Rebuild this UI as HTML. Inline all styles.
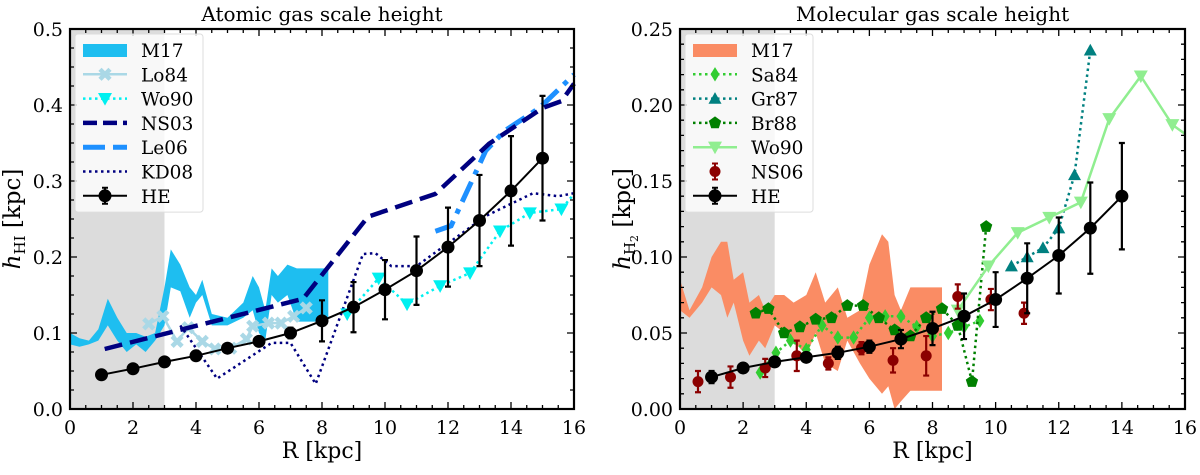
<!DOCTYPE html>
<html><head><meta charset="utf-8"><style>
body{margin:0;background:#fff;}
svg text{font-family:"DejaVu Serif","Liberation Serif",serif;}
</style></head><body>
<svg id="fig" xmlns="http://www.w3.org/2000/svg" width="1200" height="470" viewBox="0 0 1200 470"></svg>
<script>
// ---------- Left panel data (atomic) ----------
const heR = [1,2,3,4,5,6,7,8,9,10,11,12,13,14,15];
const heHI = [0.045,0.053,0.062,0.070,0.080,0.089,0.100,0.116,0.134,0.157,0.182,0.213,0.248,0.287,0.330];
const heHIerr = [0.005,0.005,0.003,0.003,0.004,0.005,0.007,0.027,0.033,0.039,0.045,0.052,0.060,0.072,0.082];
const m17R = [0,0.3,0.6,0.9,1.2,1.5,1.8,2.1,2.4,2.7,3.0,3.2,3.5,3.8,4.0,4.2,4.5,5.0,5.5,5.8,6.0,6.2,6.4,6.6,6.9,7.2,8.2];
const m17Lo = [0.085,0.082,0.085,0.09,0.11,0.09,0.075,0.085,0.075,0.09,0.11,0.16,0.155,0.12,0.14,0.15,0.11,0.11,0.12,0.13,0.10,0.09,0.15,0.14,0.15,0.115,0.115];
const m17Hi = [0.10,0.093,0.09,0.105,0.145,0.12,0.10,0.10,0.095,0.10,0.16,0.21,0.19,0.16,0.15,0.17,0.125,0.12,0.14,0.175,0.16,0.13,0.185,0.175,0.19,0.185,0.185];
const lo84R = [2.5,2.95,3.4,3.75,4.2,4.6,5.1,5.6,5.8,6.3,6.7,7.1,7.5];
const lo84V = [0.112,0.122,0.089,0.107,0.089,0.079,0.080,0.092,0.109,0.113,0.113,0.122,0.133];
const wo90R = [8.8,9.8,10.7,11.75,12.7,13.65,14.6,15.6];
const wo90V = [0.125,0.172,0.138,0.162,0.179,0.234,0.258,0.263];
const wo90EndR = [15.6,16]; const wo90EndV=[0.263,0.283];
const ns03R = [1.1,7.4,9.46,11.6,13.3,15.0,15.6,16];
const ns03V = [0.079,0.145,0.253,0.283,0.349,0.396,0.405,0.428];
const le06R = [11.6,12.1,13.0,13.2,13.8,14.9,16];
const le06V = [0.234,0.241,0.322,0.34,0.366,0.396,0.44];
const kd08R = [3.5,4.67,6.4,7.0,7.8,9.3,9.7,10.2,11,12,13.2,14.7,15.5,16];
const kd08V = [0.11,0.04,0.087,0.087,0.033,0.204,0.205,0.188,0.188,0.218,0.254,0.284,0.28,0.284];
// ---------- Right panel data (molecular) ----------
const heH2R = [1,2,3,4,5,6,7,8,9,10,11,12,13,14];
const heH2 = [0.021,0.027,0.031,0.034,0.037,0.041,0.046,0.053,0.061,0.072,0.086,0.101,0.119,0.140];
const heH2err = [0.004,0.003,0.003,0.003,0.004,0.004,0.006,0.011,0.015,0.018,0.023,0.025,0.030,0.035];
const m17mR = [0,0.3,0.7,1.0,1.3,1.5,1.7,2.0,2.2,2.5,2.7,3.0,3.3,3.6,4.0,4.3,4.6,5.0,5.3,5.7,6.0,6.4,6.6,6.8,7.0,7.3,8.3];
const m17mLo = [0.065,0.06,0.07,0.08,0.075,0.06,0.07,0.045,0.035,0.045,0.04,0.055,0.05,0.045,0.035,0.05,0.03,0.025,0.045,0.03,0.02,0.01,0.015,0.0,0.005,0.012,0.012];
const m17mHi = [0.085,0.065,0.08,0.10,0.11,0.11,0.085,0.09,0.07,0.075,0.065,0.075,0.075,0.07,0.075,0.09,0.07,0.08,0.06,0.065,0.095,0.115,0.11,0.075,0.065,0.08,0.08];
const ns06R = [0.57,1.6,2.7,3.7,4.7,5.75,6.75,7.8,8.8,9.85,10.9];
const ns06V = [0.018,0.021,0.027,0.035,0.030,0.040,0.032,0.035,0.074,0.072,0.063];
const ns06E = [0.007,0.007,0.006,0.01,0.004,0.004,0.008,0.013,0.008,0.007,0.007];
const sa84R = [2.54,3.04,3.5,4.0,4.5,5.0,5.5,6.0,6.5,7.0,7.5,8.0,8.5,9.0,9.5];
const sa84V = [0.024,0.037,0.045,0.039,0.055,0.047,0.047,0.060,0.061,0.061,0.054,0.048,0.050,0.054,0.058];
const gr87R = [10.5,11.0,11.5,12.0,12.5,13.0];
const gr87V = [0.094,0.100,0.106,0.119,0.154,0.236];
const br88R = [2.4,2.8,3.3,3.8,4.3,4.8,5.3,5.8,6.3,6.8,7.3,7.8,8.3,8.8,9.25,9.7];
const br88V = [0.063,0.066,0.050,0.054,0.059,0.060,0.068,0.068,0.060,0.052,0.048,0.060,0.066,0.055,0.018,0.12];
const wo90mR = [8.8,9.77,10.7,11.7,12.7,13.6,14.6,15.6];
const wo90mV = [0.065,0.094,0.116,0.126,0.136,0.191,0.219,0.187];
const wo90mEndR=[15.6,16]; const wo90mEndV=[0.187,0.181];
const xTicks = [0,2,4,6,8,10,12,14,16];
const yTicksL = ["0.0","0.1","0.2","0.3","0.4","0.5"];
const yTicksR = ["0.00","0.05","0.10","0.15","0.20","0.25"];

const NS="http://www.w3.org/2000/svg";
const svg=document.getElementById('fig');
function mk(tag,attrs,parent){const e=document.createElementNS(NS,tag);for(const k in attrs)e.setAttribute(k,attrs[k]);(parent||svg).appendChild(e);return e;}

function panel(p){
  const g=mk('g',{});
  
  
  const X=r=>p.x0+(r-0)*(p.x1-p.x0)/16;
  const Y=v=>p.y0-(v)*(p.y0-p.y1)/p.ymax;
  p.X=X;p.Y=Y;p.g=g;
  const sh=mk('rect',{x:X(0),y:p.y1,width:X(3)-X(0),height:p.y0-p.y1,fill:'#dcdcdc'},g);
  
  
  return p;
}
function line(p,R,V,style,name){
  const d=R.map((r,i)=>(i?'L':'M')+p.X(r).toFixed(1)+','+p.Y(V[i]).toFixed(1)).join(' ');
  const e=mk('path',Object.assign({d:d,fill:'none'},style),p.g);
  
  
  return e;
}
function band(p,R,lo,hi,color,name){
  let d='M'+R.map((r,i)=>p.X(r).toFixed(1)+','+p.Y(hi[i]).toFixed(1)).join(' L');
  for(let i=R.length-1;i>=0;i--)d+=' L'+p.X(R[i]).toFixed(1)+','+p.Y(lo[i]).toFixed(1);
  const e=mk('path',{d:d+'Z',fill:color},p.g);
  
  
}
function marker(g,type,x,y,s,color){
  let e;
  if(type==='circle')e=mk('circle',{cx:x,cy:y,r:s,fill:color},g);
  else if(type==='tdown')e=mk('path',{d:`M${x-s},${y-s*0.8} L${x+s},${y-s*0.8} L${x},${y+s}Z`,fill:color},g);
  else if(type==='tup')e=mk('path',{d:`M${x-s},${y+s*0.8} L${x+s},${y+s*0.8} L${x},${y-s}Z`,fill:color},g);
  else if(type==='diamond')e=mk('path',{d:`M${x},${y-s*1.2} L${x+s*0.75},${y} L${x},${y+s*1.2} L${x-s*0.75},${y}Z`,fill:color},g);
  else if(type==='pent'){let pts=[];for(let k=0;k<5;k++){const a=-Math.PI/2+k*2*Math.PI/5;pts.push((x+s*Math.cos(a)).toFixed(1)+','+(y+s*Math.sin(a)).toFixed(1));}e=mk('polygon',{points:pts.join(' '),fill:color},g);}
  else if(type==='x'){e=mk('path',{d:`M${x-s},${y-s} L${x+s},${y+s} M${x-s},${y+s} L${x+s},${y-s}`,stroke:color,'stroke-width':4.5},g);}
  return e;
}
function markers(p,R,V,type,s,color,name){
  R.forEach((r,i)=>{const e=marker(p.g,type,p.X(r),p.Y(V[i]),s,color);
    
    });
}
function errbars(p,R,V,E,color,w,name){
  R.forEach((r,i)=>{const x=p.X(r);const y1=p.Y(V[i]+E[i]),y2=p.Y(V[i]-E[i]);
    const e=mk('path',{d:`M${x},${y1} L${x},${y2} M${x-3},${y1} L${x+3},${y1} M${x-3},${y2} L${x+3},${y2}`,stroke:color,'stroke-width':w,fill:'none'},p.g);
    
    });
}
function axes(p,yLabels,yMinorStep,title,ylab){
  const g=p.g;
  const fr=mk('rect',{x:p.x0,y:p.y1,width:p.x1-p.x0,height:p.y0-p.y1,fill:'none',stroke:'#000','stroke-width':2.2},g);
  
  
  let d='';
  for(let r=0;r<=16.001;r+=0.5){const x=p.X(r);const L=(Math.abs(r%2)<1e-6)?7:4;d+=`M${x},${p.y0} L${x},${p.y0-L} M${x},${p.y1} L${x},${p.y1+L} `;}
  const ymax=p.ymax;
  for(let v=0;v<=ymax+1e-9;v+=yMinorStep){const y=p.Y(v);const maj=Math.abs((v/(ymax/5))-Math.round(v/(ymax/5)))<1e-6;const L=maj?7:4;d+=`M${p.x0},${y} L${p.x0+L},${y} M${p.x1},${y} L${p.x1-L},${y} `;}
  const t=mk('path',{d:d,stroke:'#000','stroke-width':1.3},g);
  
  
  xTicks.forEach(r=>{const e=mk('text',{x:p.X(r),y:p.y0+25,'text-anchor':'middle','font-size':19},g);e.textContent=r;
    
    });
  yLabels.forEach((s,i)=>{const e=mk('text',{x:p.x0-7,y:p.Y(i*ymax/5)+7,'text-anchor':'end','font-size':19},g);e.textContent=s;
    
    });
  const tt=mk('text',{x:(p.x0+p.x1)/2,y:21,'text-anchor':'middle','font-size':20},g);tt.textContent=title;
  
  
  const xl=mk('text',{x:(p.x0+p.x1)/2,y:458,'text-anchor':'middle','font-size':22},g);xl.textContent='R [kpc]';
  
  
  const yl=mk('text',{x:0,y:0,'text-anchor':'middle','font-size':23,transform:`translate(${p.x0-50},${(p.y0+p.y1)/2}) rotate(-90)`},g);
  yl.innerHTML=ylab;
  
  
}
function legend(p,items){
  const g=mk('g',{},p.g);
  
  
  const bx=p.x0+5,by=p.y1+5,h=items.length*24.3+8;
  mk('rect',{x:bx,y:by,width:128,height:h,rx:3,fill:'#fff','fill-opacity':0.8,stroke:'#ddd'},g);
  items.forEach((it,i)=>{const y=by+16+i*24.3;const x1=bx+8,x2=bx+52;
    const e=mk('g',{},g);
    
    
    if(it.patch)mk('rect',{x:x1,y:y-6,width:x2-x1,height:13,fill:it.patch},e);
    if(it.stroke)mk('path',Object.assign({d:`M${x1},${y} L${x2},${y}`,fill:'none'},it.stroke),e);
    if(it.err)mk('path',{d:`M${(x1+x2)/2},${y-8} L${(x1+x2)/2},${y+8} M${(x1+x2)/2-3},${y-8} L${(x1+x2)/2+3},${y-8} M${(x1+x2)/2-3},${y+8} L${(x1+x2)/2+3},${y+8}`,stroke:it.err,'stroke-width':2},e);
    if(it.m)marker(e,it.m,(x1+x2)/2,y,it.ms,it.mc);
    const t=mk('text',{x:bx+66,y:y+7,'font-size':18.5},e);t.textContent=it.label;});
}

// ---------- Left ----------
const L=panel({name:'atomic-panel',x0:70,x1:574,y0:409,y1:29,ymax:0.5});
band(L,m17R,m17Lo,m17Hi,'#1ebef0','m17-band');
line(L,lo84R,lo84V,{stroke:'#aad8e6','stroke-width':2.5},'lo84-line');
markers(L,lo84R,lo84V,'x',5,'#aad8e6','lo84-marker');
line(L,kd08R,kd08V,{stroke:'#000080','stroke-width':2.5,'stroke-dasharray':'2.5,3.5'},'kd08-line');
line(L,wo90R.concat([16]),wo90V.concat([0.283]),{stroke:'#00f0f0','stroke-width':2.5,'stroke-dasharray':'2.5,3.5'},'wo90-line');
markers(L,wo90R,wo90V,'tdown',7,'#00f0f0','wo90-marker');
line(L,le06R,le06V,{stroke:'#1e90ff','stroke-width':5,'stroke-dasharray':'22,8,5,8'},'le06-line');
line(L,ns03R,ns03V,{stroke:'#000080','stroke-width':4.5,'stroke-dasharray':'18,8'},'ns03-line');
errbars(L,heR,heHI,heHIerr,'#000',2.2,'he-errorbar');
line(L,heR,heHI,{stroke:'#000','stroke-width':2},'he-line');
markers(L,heR,heHI,'circle',6.5,'#000','he-marker');
axes(L,yTicksL,0.025,'Atomic gas scale height','<tspan font-style="italic">h</tspan><tspan font-size="15" dy="5">HI</tspan><tspan dy="-5"> [kpc]</tspan>');
legend(L,[
 {label:'M17',patch:'#1ebef0'},
 {label:'Lo84',stroke:{stroke:'#aad8e6','stroke-width':2.5},m:'x',ms:5,mc:'#aad8e6'},
 {label:'Wo90',stroke:{stroke:'#00f0f0','stroke-width':2.5,'stroke-dasharray':'2.5,3.5'},m:'tdown',ms:7,mc:'#00f0f0'},
 {label:'NS03',stroke:{stroke:'#000080','stroke-width':4.5,'stroke-dasharray':'14,6'}},
 {label:'Le06',stroke:{stroke:'#1e90ff','stroke-width':5,'stroke-dasharray':'22,8'}},
 {label:'KD08',stroke:{stroke:'#000080','stroke-width':2.5,'stroke-dasharray':'2.5,3.5'}},
 {label:'HE',stroke:{stroke:'#000','stroke-width':2},err:'#000',m:'circle',ms:6.5,mc:'#000'}
]);

// ---------- Right ----------
const R=panel({name:'molecular-panel',x0:680,x1:1185,y0:409,y1:29,ymax:0.25});
band(R,m17mR,m17mLo,m17mHi,'#fa8c64','m17-band');
line(R,sa84R,sa84V,{stroke:'#32cd32','stroke-width':2.5,'stroke-dasharray':'2.5,3.5'},'sa84-line');
markers(R,sa84R,sa84V,'diamond',6,'#32cd32','sa84-marker');
line(R,br88R,br88V,{stroke:'#008000','stroke-width':2.5,'stroke-dasharray':'2.5,3.5'},'br88-line');
markers(R,br88R,br88V,'pent',6.5,'#008000','br88-marker');
line(R,gr87R,gr87V,{stroke:'#008080','stroke-width':2.5,'stroke-dasharray':'2.5,3.5'},'gr87-line');
markers(R,gr87R,gr87V,'tup',6.5,'#008080','gr87-marker');
line(R,wo90mR.concat(wo90mEndR.slice(1)),wo90mV.concat(wo90mEndV.slice(1)),{stroke:'#90ee90','stroke-width':2.5},'wo90-line');
markers(R,wo90mR,wo90mV,'tdown',7,'#90ee90','wo90-marker');
errbars(R,ns06R,ns06V,ns06E,'#8b0000',2.2,'ns06-errorbar');
markers(R,ns06R,ns06V,'circle',5.5,'#8b0000','ns06-marker');
errbars(R,heH2R,heH2,heH2err,'#000',2.2,'he-errorbar');
line(R,heH2R,heH2,{stroke:'#000','stroke-width':2},'he-line');
markers(R,heH2R,heH2,'circle',6.5,'#000','he-marker');
axes(R,yTicksR,0.01,'Molecular gas scale height','<tspan font-style="italic">h</tspan><tspan font-size="15" dy="5">H</tspan><tspan font-size="11" dy="3">2</tspan><tspan dy="-8"> [kpc]</tspan>');
legend(R,[
 {label:'M17',patch:'#fa8c64'},
 {label:'Sa84',stroke:{stroke:'#32cd32','stroke-width':2.5,'stroke-dasharray':'2.5,3.5'},m:'diamond',ms:6,mc:'#32cd32'},
 {label:'Gr87',stroke:{stroke:'#008080','stroke-width':2.5,'stroke-dasharray':'2.5,3.5'},m:'tup',ms:6.5,mc:'#008080'},
 {label:'Br88',stroke:{stroke:'#008000','stroke-width':2.5,'stroke-dasharray':'2.5,3.5'},m:'pent',ms:6.5,mc:'#008000'},
 {label:'Wo90',stroke:{stroke:'#90ee90','stroke-width':2.5},m:'tdown',ms:7,mc:'#90ee90'},
 {label:'NS06',err:'#8b0000',m:'circle',ms:5.5,mc:'#8b0000'},
 {label:'HE',stroke:{stroke:'#000','stroke-width':2},err:'#000',m:'circle',ms:6.5,mc:'#000'}
]);
</script>
</body></html>
